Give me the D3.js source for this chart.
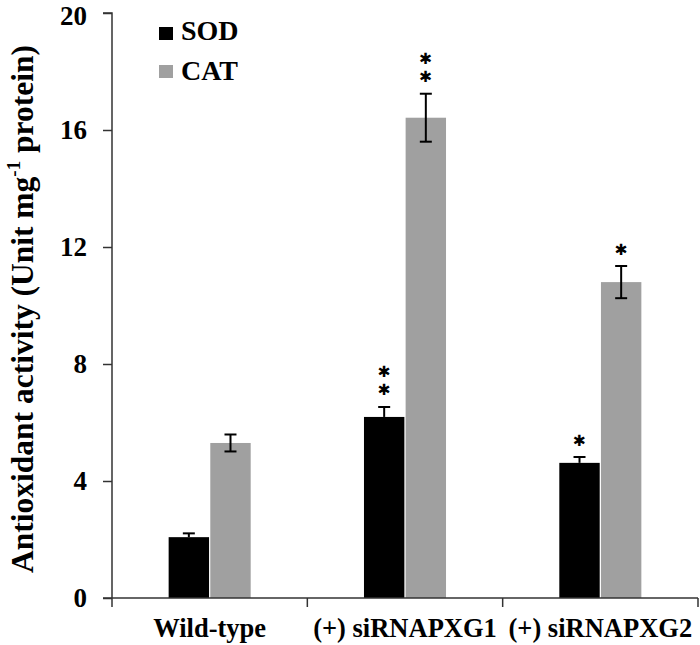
<!DOCTYPE html>
<html><head><meta charset="utf-8">
<script src="https://cdn.jsdelivr.net/npm/d3@7"></script>
<style>body{margin:0;background:#fff}svg{display:block}text{font-family:"Liberation Serif","Times New Roman",serif;font-weight:bold}</style>
</head><body>
<svg id="c" width="700" height="645"></svg>
<script>
const categories = ["Wild-type", "(+) siRNAPXG1", "(+) siRNAPXG2"];
const series = ["SOD", "CAT"];
const sodValues = [2.08, 6.19, 4.62];
const sodErrors = [0.13, 0.34, 0.2];
const catValues = [5.3, 16.42, 10.8];
const catErrors = [0.29, 0.82, 0.55];
const sodStars = ["", "**", "*"];
const catStars = ["", "**", "*"];
const yTicks = [0, 4, 8, 12, 16, 20];
const colors = {SOD: "#000000", CAT: "#a0a0a0"};

const svg = d3.select("#c");
const m = {left: 112, right: 698, top: 13, bottom: 598};
const x = d3.scaleBand().domain(categories).range([m.left, m.right]).paddingInner(0).paddingOuter(0);
const xs = d3.scaleBand().domain(series).range([0, x.bandwidth()]).paddingInner(0.03).paddingOuter(1.36);
const y = d3.scaleLinear().domain([0, 20]).range([m.bottom, m.top]);

const data = [];
categories.forEach((c, i) => {
  data.push({cat: c, s: "SOD", v: sodValues[i], e: sodErrors[i], star: sodStars[i]});
  data.push({cat: c, s: "CAT", v: catValues[i], e: catErrors[i], star: catStars[i]});
});

svg.selectAll("rect.bar").data(data).join("rect").attr("class", "bar")
  .attr("x", d => x(d.cat) + xs(d.s)).attr("width", xs.bandwidth())
  .attr("y", d => y(d.v)).attr("height", d => y(0) - y(d.v))
  .attr("fill", d => colors[d.s]);

// error bars and significance stars
const eb = svg.append("g").attr("stroke", "#000").attr("stroke-width", 2);
data.forEach(d => {
  const cx = x(d.cat) + xs(d.s) + xs.bandwidth() / 2;
  eb.append("line").attr("x1", cx).attr("x2", cx).attr("y1", y(d.v + d.e)).attr("y2", d.s === "SOD" ? y(d.v) : y(d.v - d.e));
  eb.append("line").attr("x1", cx - 6).attr("x2", cx + 6).attr("y1", y(d.v + d.e)).attr("y2", y(d.v + d.e));
  if (d.s === "CAT") eb.append("line").attr("x1", cx - 6).attr("x2", cx + 6).attr("y1", y(d.v - d.e)).attr("y2", y(d.v - d.e));
  const top = y(d.v + d.e);
  for (let k = 0; k < d.star.length; k++) {
    svg.append("text").attr("x", cx).attr("y", top - 16.5 - k * 18.5)
      .attr("text-anchor", "middle").attr("dominant-baseline", "central")
      .attr("font-size", 15.5).attr("fill", "#000")
      .style("font-family", "'DejaVu Sans',sans-serif").style("font-weight", "bold")
      .text("\u2731");
  }
});

// y axis
const ya = svg.append("g").attr("transform", `translate(${m.left},0)`)
  .call(d3.axisLeft(y).tickValues(yTicks).tickSize(9).tickPadding(16).tickFormat(d3.format("d")));
ya.select(".domain").attr("stroke", "#333").attr("stroke-width", 1.5).attr("d", `M-9,${m.top}H0V${m.bottom}`);
ya.selectAll(".tick line").attr("stroke", "#333").attr("stroke-width", 1.5);
ya.selectAll(".tick text").attr("font-size", 27).attr("fill", "#000").style("font-family", "'Liberation Serif',serif").style("font-weight", "bold");
ya.selectAll(".tick").filter(d => d === 20).select("text").attr("dy", "0.42em");

// x axis
const xa = svg.append("g").attr("transform", `translate(0,${m.bottom})`);
xa.append("line").attr("x1", m.left - 9).attr("x2", m.right).attr("y1", 0).attr("y2", 0).attr("stroke", "#333").attr("stroke-width", 1.5);
const seps = [m.left].concat(categories.map(c => x(c) + x.bandwidth()));
xa.selectAll("line.sep").data(seps).join("line").attr("class", "sep")
  .attr("x1", d => d).attr("x2", d => d).attr("y1", 0).attr("y2", 9).attr("stroke", "#333").attr("stroke-width", 1.5);
xa.selectAll("text").data(categories).join("text")
  .attr("x", d => x(d) + x.bandwidth() / 2).attr("y", 39).attr("text-anchor", "middle")
  .attr("font-size", 26.5).attr("fill", "#000").text(d => d);

// y title
const yt = svg.append("text").attr("transform", `translate(33,${309}) rotate(-90)`)
  .attr("text-anchor", "middle").attr("font-size", 31.5).attr("fill", "#000");
yt.append("tspan").text("Antioxidant activity (Unit mg");
yt.append("tspan").attr("font-size", 19).attr("dy", -13).text("-1");
yt.append("tspan").attr("dy", 13).text(" protein)");

// legend
const lg = svg.append("g");
series.forEach((s, i) => {
  lg.append("rect").attr("x", 159).attr("y", 27 + i * 38).attr("width", 14).attr("height", 13).attr("fill", colors[s]);
  lg.append("text").attr("x", 181).attr("y", 40 + i * 39.5).attr("font-size", 28).attr("fill", "#000").text(s);
});
</script>
</body></html>
